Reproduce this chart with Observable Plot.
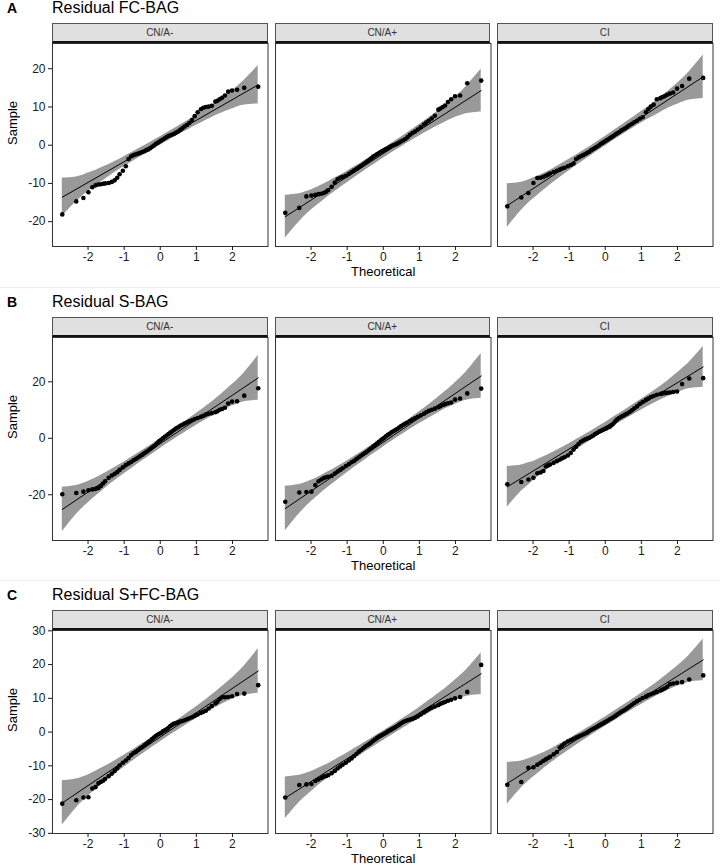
<!DOCTYPE html>
<html><head><meta charset="utf-8">
<script src="https://cdn.jsdelivr.net/npm/d3@7"></script>
<script src="https://cdn.jsdelivr.net/npm/@observablehq/plot@0.6"></script>
<style>
body{margin:0;background:#fff;font-family:"Liberation Sans",Arial,sans-serif;}
#root{position:relative;width:720px;height:865px;overflow:hidden;background:#fff;}
.strip{position:absolute;box-sizing:border-box;background:#e0e0e0;border:1px solid #555;border-bottom:2px solid #111;font-size:10px;color:#333;text-align:center;line-height:17px;}
.letter{position:absolute;font-weight:bold;font-size:14px;line-height:18px;color:#000;}
.title{position:absolute;font-size:16px;line-height:18px;color:#000;}
.sep{position:absolute;left:0;width:720px;height:1px;background:#eeeeee;}
</style></head>
<body><div id="root"></div>
<script>
// ---- labels ----
const panelLetters = ["A", "B", "C"];
const panelTitles = ["Residual FC-BAG", "Residual S-BAG", "Residual S+FC-BAG"];
const facetNames = ["CN/A-", "CN/A+", "CI"];
const xTicks = [-2, -1, 0, 1, 2];
const xDomain = [-2.984, 2.984];
const yTicksA = [-20, -10, 0, 10, 20];
const yTicksB = [-20, 0, 20];
const yTicksC = [-30, -20, -10, 0, 10, 20, 30];
const yDomainA = [-26.5, 26.6];
const yDomainB = [-36.2, 35.7];
const yDomainC = [-30.05, 30.1];

// theoretical normal quantiles of the plotted points
const theoretical = [-2.713,-2.326,-2.128,-1.989,-1.881,-1.791,-1.713,-1.645,-1.583,-1.527,-1.428,-1.341,-1.263,-1.192,-1.126,-1.036,-0.954,-0.878,-0.806,-0.739,-0.674,-0.613,-0.553,-0.496,-0.440,-0.385,-0.332,-0.279,-0.228,-0.176,-0.126,-0.075,-0.025,0.025,0.075,0.126,0.176,0.228,0.279,0.332,0.385,0.440,0.496,0.553,0.613,0.674,0.739,0.806,0.878,0.954,1.036,1.126,1.192,1.263,1.341,1.428,1.527,1.583,1.645,1.713,1.791,1.881,1.989,2.128,2.326,2.713];

// ---- sample values (A: FC-BAG) ----
const fc_minus = [-18.1,-14.7,-13.8,-12.3,-11.0,-10.5,-10.3,-10.2,-10.1,-10.0,-9.9,-9.6,-9.2,-8.5,-7.6,-6.7,-5.5,-3.6,-2.9,-2.6,-2.4,-2.2,-2.0,-1.8,-1.6,-1.3,-1.1,-0.8,-0.4,-0.1,0.3,0.6,0.9,1.2,1.5,1.8,2.1,2.4,2.6,2.8,3.0,3.3,3.6,4.0,4.4,4.9,5.3,5.8,6.6,7.6,8.6,9.4,9.8,10.0,10.1,10.3,11.4,11.6,12.0,12.4,13.0,14.0,14.3,14.5,15.0,15.3];
const fc_plus = [-17.7,-16.4,-13.4,-13.2,-13.0,-12.8,-12.7,-12.5,-12.2,-11.8,-10.9,-9.8,-8.9,-8.5,-8.3,-8.0,-7.5,-7.0,-6.6,-6.2,-5.8,-5.4,-5.0,-4.6,-4.2,-3.8,-3.4,-3.0,-2.7,-2.4,-2.1,-1.8,-1.5,-1.3,-1.0,-0.8,-0.5,-0.2,0.0,0.2,0.4,0.7,1.0,1.3,1.6,2.1,2.7,3.2,3.6,4.1,4.7,5.4,5.9,6.4,7.0,7.7,9.3,9.6,10.0,10.4,11.3,12.0,12.8,13.0,16.2,16.9];
const fc_ci = [-16.0,-13.7,-12.5,-9.9,-8.6,-8.5,-8.3,-8.0,-7.7,-7.4,-7.0,-6.7,-6.4,-6.1,-5.9,-5.5,-5.2,-4.8,-3.6,-3.2,-2.9,-2.6,-2.3,-2.0,-1.7,-1.3,-1.0,-0.7,-0.4,-0.1,0.3,0.6,0.9,1.2,1.5,1.8,2.1,2.4,2.8,3.1,3.4,3.8,4.1,4.4,4.8,5.2,5.6,6.0,6.4,6.9,7.3,8.6,9.4,10.1,10.6,12.0,12.3,12.6,12.8,13.2,13.5,13.8,14.8,15.5,17.4,17.6];
// ---- sample values (B: S-BAG) ----
const s_minus = [-19.8,-19.4,-18.9,-18.4,-18.1,-17.9,-17.6,-16.9,-16.0,-15.2,-14.0,-13.2,-12.6,-12.0,-11.2,-10.3,-9.5,-8.9,-8.4,-7.8,-7.3,-6.8,-6.3,-5.8,-5.3,-4.8,-4.3,-3.8,-3.3,-2.8,-2.3,-1.6,-1.0,-0.5,0.0,0.5,1.0,1.5,2.0,2.5,3.0,3.5,3.9,4.4,4.8,5.2,5.6,6.0,6.4,6.8,7.2,7.6,8.0,8.4,8.7,8.9,9.2,9.6,10.1,10.4,10.8,12.3,13.0,13.1,15.1,17.7];
const s_plus = [-22.5,-19.2,-19.0,-18.9,-16.6,-15.2,-14.6,-14.1,-13.8,-13.6,-13.3,-12.5,-11.8,-11.2,-10.6,-9.8,-9.2,-8.5,-8.0,-7.3,-6.7,-6.1,-5.6,-5.1,-4.6,-4.0,-3.5,-2.9,-2.4,-1.9,-1.3,-0.8,-0.3,0.2,0.7,1.2,1.6,2.1,2.5,2.9,3.3,3.8,4.3,4.8,5.2,5.6,6.1,6.6,7.1,7.6,8.1,8.7,9.2,9.7,10.1,10.5,11.0,11.4,11.8,12.1,12.4,12.7,13.7,14.1,15.9,17.6];
const s_ci = [-16.3,-15.5,-14.6,-14.0,-12.4,-12.1,-11.6,-10.0,-9.6,-9.3,-8.7,-8.1,-7.6,-7.1,-6.7,-6.1,-5.2,-4.0,-3.0,-2.0,-1.2,-0.8,-0.4,-0.1,0.2,0.6,1.0,1.5,1.9,2.3,2.6,2.9,3.2,3.5,3.8,4.1,4.6,5.2,6.0,6.7,7.2,7.6,8.0,8.4,8.8,9.3,9.9,10.6,11.3,12.2,12.9,13.6,14.1,14.6,15.0,15.4,15.7,15.9,16.0,16.1,16.2,16.4,16.6,19.2,21.2,21.3];
// ---- sample values (C: S+FC-BAG) ----
const sfc_minus = [-21.2,-20.2,-19.4,-19.3,-16.7,-16.3,-15.2,-14.8,-14.4,-13.9,-13.1,-12.3,-11.5,-10.7,-9.9,-9.1,-8.4,-7.7,-6.8,-6.2,-5.8,-5.3,-4.8,-4.4,-3.9,-3.5,-3.0,-2.6,-2.1,-1.6,-1.2,-0.8,-0.5,-0.2,0.2,0.5,0.8,1.3,1.8,2.2,2.5,2.7,2.9,3.1,3.3,3.5,3.8,4.1,4.4,4.8,5.2,5.7,6.0,6.3,7.0,7.7,8.5,9.0,9.8,10.3,10.3,10.4,10.6,11.3,11.4,13.9];
const sfc_plus = [-19.4,-15.7,-15.5,-15.4,-14.5,-14.0,-13.6,-13.2,-13.0,-12.8,-12.2,-11.5,-10.8,-10.2,-9.7,-9.1,-8.4,-7.8,-7.1,-6.4,-5.8,-5.3,-4.8,-4.3,-3.9,-3.5,-3.1,-2.6,-2.2,-1.8,-1.4,-1.1,-0.8,-0.5,-0.2,0.2,0.5,0.8,1.1,1.4,1.8,2.2,2.6,3.0,3.3,3.5,3.7,3.9,4.2,4.6,5.2,5.8,6.3,6.8,7.2,7.6,8.0,8.4,8.6,8.9,9.3,9.6,10.0,10.4,11.9,19.9];
const sfc_ci = [-15.6,-14.8,-10.6,-10.4,-9.7,-9.1,-8.5,-8.1,-7.7,-7.3,-6.6,-5.9,-4.6,-4.0,-3.4,-2.8,-2.4,-2.0,-1.6,-1.3,-1.0,-0.7,-0.4,-0.1,0.3,0.7,1.0,1.3,1.6,1.9,2.2,2.5,2.8,3.1,3.4,3.8,4.1,4.4,4.8,5.2,5.6,6.0,6.3,6.7,7.1,7.6,8.1,8.6,9.1,9.6,10.1,10.5,10.9,11.2,11.5,11.9,12.3,12.6,12.9,13.4,14.2,14.4,14.6,14.8,15.6,16.8];

// ---- reference lines: sample value at first and last theoretical quantile ----
const fc_lines = [[-13.6, 15.8], [-18.7, 14.3], [-15.8, 17.9]];
const s_lines = [[-25.2, 21.4], [-24.9, 22.1], [-17.2, 25.3]];
const sfc_lines = [[-21.0, 18.1], [-19.5, 17.3], [-15.2, 21.4]];

// ---- confidence bands ----
const bandX = [-2.713,-2.326,-2.128,-2,-1.75,-1.5,-1,0,1,1.5,1.75,2,2.128,2.326,2.713];
const fc_minus_lo = [-18.6,-14.8,-13.1,-12.1,-10.4,-8.7,-5.6,0.0,5.2,7.6,8.6,9.5,10.0,10.5,10.8];
const fc_minus_hi = [-8.6,-8.3,-7.8,-7.3,-6.4,-5.4,-3.0,2.2,7.8,10.9,12.6,14.3,15.3,17.0,20.8];
const fc_plus_lo = [-24.3,-20.0,-18.1,-17.0,-15.1,-13.2,-9.8,-3.4,2.4,5.0,6.2,7.3,7.7,8.3,8.7];
const fc_plus_hi = [-13.1,-12.7,-12.1,-11.7,-10.6,-9.4,-6.8,-1.0,5.4,8.8,10.7,12.7,13.7,15.6,19.9];
const fc_ci_lo = [-21.5,-17.1,-15.2,-14.1,-12.1,-10.2,-6.7,-0.2,5.8,8.4,9.7,10.7,11.2,11.8,12.2];
const fc_ci_hi = [-10.1,-9.7,-9.1,-8.6,-7.6,-6.4,-3.7,2.3,8.8,12.3,14.2,16.2,17.3,19.2,23.6];
const s_minus_lo = [-33.1,-27.0,-24.4,-22.9,-20.1,-17.4,-12.6,-3.6,4.6,8.3,10.0,11.5,12.1,12.9,13.5];
const s_minus_hi = [-17.3,-16.7,-15.9,-15.3,-13.8,-12.1,-8.4,-0.2,8.8,13.6,16.3,19.1,20.6,23.2,29.3];
const s_plus_lo = [-32.8,-26.7,-24.1,-22.5,-19.7,-17.1,-12.2,-3.1,5.2,8.9,10.6,12.1,12.8,13.6,14.2];
const s_plus_hi = [-17.0,-16.4,-15.6,-14.9,-13.4,-11.7,-8.0,0.3,9.4,14.3,16.9,19.8,21.3,23.9,30.0];
const s_ci_lo = [-24.4,-18.8,-16.5,-15.1,-12.5,-10.1,-5.7,2.5,10.0,13.4,14.9,16.2,16.8,17.6,18.1];
const s_ci_hi = [-10.0,-9.5,-8.7,-8.2,-6.8,-5.3,-1.9,5.6,13.8,18.2,20.6,23.2,24.6,26.9,32.5];
const sfc_minus_lo = [-27.6,-22.5,-20.3,-19.0,-16.7,-14.5,-10.4,-2.9,4.0,7.1,8.5,9.8,10.3,11.0,11.5];
const sfc_minus_hi = [-14.4,-13.9,-13.2,-12.7,-11.4,-10.0,-6.9,0.0,7.5,11.6,13.8,16.1,17.4,19.6,24.7];
const sfc_plus_lo = [-25.7,-20.9,-18.9,-17.7,-15.4,-13.4,-9.5,-2.5,4.0,7.0,8.3,9.5,10.0,10.6,11.1];
const sfc_plus_hi = [-13.3,-12.8,-12.2,-11.7,-10.5,-9.2,-6.2,0.3,7.3,11.2,13.2,15.5,16.7,18.7,23.5];
const sfc_ci_lo = [-21.4,-16.6,-14.6,-13.4,-11.2,-9.1,-5.3,1.7,8.2,11.1,12.5,13.6,14.1,14.8,15.2];
const sfc_ci_hi = [-9.0,-8.6,-7.9,-7.4,-6.3,-5.0,-2.0,4.5,11.5,15.3,17.4,19.6,20.8,22.8,27.6];

// ---- grouping ----
const secPoints = [[fc_minus, fc_plus, fc_ci], [s_minus, s_plus, s_ci], [sfc_minus, sfc_plus, sfc_ci]];
const secLo = [[fc_minus_lo, fc_plus_lo, fc_ci_lo], [s_minus_lo, s_plus_lo, s_ci_lo], [sfc_minus_lo, sfc_plus_lo, sfc_ci_lo]];
const secHi = [[fc_minus_hi, fc_plus_hi, fc_ci_hi], [s_minus_hi, s_plus_hi, s_ci_hi], [sfc_minus_hi, sfc_plus_hi, sfc_ci_hi]];
const secLines = [fc_lines, s_lines, sfc_lines];
const secYDomain = [yDomainA, yDomainB, yDomainC];
const secYTicks = [yTicksA, yTicksB, yTicksC];

// ---- layout ----
const stripTops = [23, 316.5, 609.5];
const panelLefts = [52, 274.5, 497];
const panelW = 215.5, stripH = 20, panelH = 203, bottomM = 36, leftM = 52;
const sepTops = [287, 580];
const font = "Liberation Sans, Arial, sans-serif";

const root = document.getElementById("root");
sepTops.forEach(t => { const d = document.createElement("div"); d.className = "sep"; d.style.top = t + "px"; root.appendChild(d); });

panelLetters.forEach((letter, s) => {
  const top = stripTops[s];
  const L = document.createElement("div"); L.className = "letter"; L.textContent = letter;
  L.style.left = "7px"; L.style.top = (top - 24) + "px"; root.appendChild(L);
  const T = document.createElement("div"); T.className = "title"; T.textContent = panelTitles[s];
  T.style.left = "52px"; T.style.top = (top - 24) + "px"; root.appendChild(T);

  facetNames.forEach((name, j) => {
    const st = document.createElement("div"); st.className = "strip"; st.textContent = name;
    st.style.left = panelLefts[j] + "px"; st.style.top = top + "px";
    st.style.width = panelW + "px"; st.style.height = stripH + "px";
    root.appendChild(st);

    const pts = theoretical.map((x, i) => ({x, y: secPoints[s][j][i]}));
    const band = bandX.map((x, i) => ({x, lo: secLo[s][j][i], hi: secHi[s][j][i]}));
    const ln = secLines[s][j];
    const lineData = [{x: theoretical[0], y: ln[0]}, {x: theoretical[theoretical.length - 1], y: ln[1]}];
    const first = j === 0;
    const ml = first ? leftM : 0;
    const marks = [
      Plot.areaY(band, {x: "x", y1: "lo", y2: "hi", fill: "#999999", curve: "catmull-rom"}),
      Plot.line(lineData, {x: "x", y: "y", stroke: "#000", strokeWidth: 1}),
      Plot.dot(pts, {x: "x", y: "y", r: 2.3, fill: "#000", stroke: "none"}),
      Plot.frame({stroke: "#333", strokeWidth: 1}),
      Plot.axisX({ticks: xTicks, tickSize: 4, tickPadding: 2, tickFormat: d => String(d), fontSize: 12, label: null})
    ];
    if (first) {
      marks.push(Plot.axisY({ticks: secYTicks[s], tickSize: 4, tickPadding: 3, tickFormat: d => String(d), fontSize: 12, label: null}));
      marks.push(Plot.text(["Sample"], {frameAnchor: "left", dx: -40, rotate: -90, fontSize: 13, fill: "#000"}));
    }
    if (j === 1) {
      marks.push(Plot.text(["Theoretical"], {frameAnchor: "bottom", dy: 29, fontSize: 13, fill: "#000"}));
    }
    const svg = Plot.plot({
      width: ml + panelW, height: panelH + bottomM,
      marginLeft: ml, marginRight: 0, marginTop: 0, marginBottom: bottomM,
      style: {fontFamily: font, fontSize: "12px", color: "#1a1a1a", background: "transparent", overflow: "visible"},
      x: {domain: xDomain, axis: null},
      y: {domain: secYDomain[s], axis: null},
      marks
    });
    svg.style.position = "absolute";
    svg.style.left = (panelLefts[j] - ml) + "px";
    svg.style.top = (top + stripH) + "px";
    root.appendChild(svg);
  });
});
</script>
</body></html>
